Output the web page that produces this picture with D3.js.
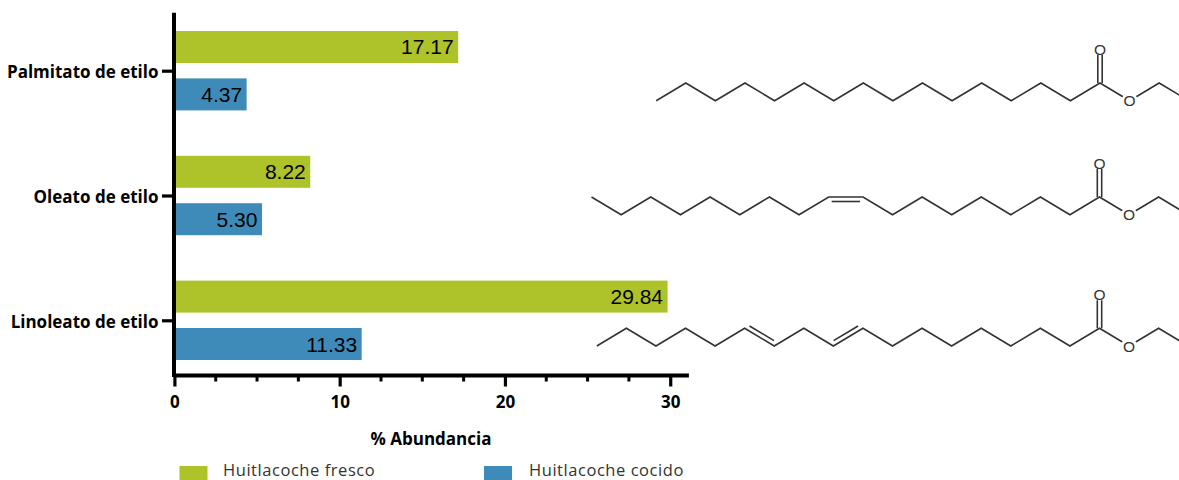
<!DOCTYPE html>
<html>
<head>
<meta charset="utf-8">
<script src="https://cdn.jsdelivr.net/npm/d3@7"></script>
<style>
  html, body { margin: 0; padding: 0; background: #fff; overflow: hidden; }
  svg { display: block; }
</style>
</head>
<body>
<svg id="chart" width="1179" height="480"></svg>
<script>
const categories = ['Palmitato de etilo', 'Oleato de etilo', 'Linoleato de etilo'];
const seriesNames = ['Huitlacoche fresco', 'Huitlacoche cocido'];
const fresco = [17.17, 8.22, 29.84];
const cocido = [4.37, 5.30, 11.33];
const xTicks = [0, 10, 20, 30];
const xMinorTicks = [2.5, 5, 7.5, 12.5, 15, 17.5, 22.5, 25, 27.5];
const colors = ['#aec22a', '#3e8bba'];

const svg = d3.select('#chart');

// scales
const xScale = d3.scaleLinear().domain([0, 31.1]).range([174.4, 688.4]);
const yScale = d3.scalePoint().domain(categories).range([70.7, 320.3]);
const subScale = d3.scaleBand().domain(seriesNames).range([-39.7, 39.7]).paddingInner(0.325);

// bars
seriesNames.forEach((name, s) => {
  const values = s === 0 ? fresco : cocido;
  const g = svg.append('g');

  g.selectAll('rect')
    .data(values)
    .join('rect')
    .attr('x', xScale(0))
    .attr('y', (d, i) => yScale(categories[i]) + subScale(name))
    .attr('width', d => xScale(d) - xScale(0))
    .attr('height', subScale.bandwidth())
    .attr('fill', colors[s]);

  g.selectAll('text')
    .data(values)
    .join('text')
    .attr('x', d => xScale(d) - 4.5)
    .attr('y', (d, i) => yScale(categories[i]) + subScale(name) + subScale.bandwidth() / 2 + 7.5)
    .attr('text-anchor', 'end')
    .style('font-family', 'Liberation Sans')
    .style('font-size', '21px')
    .attr('fill', '#000')
    .text(d => d.toFixed(2));
});

// x axis, major and minor ticks
const xAxis = d3.axisBottom(xScale).tickValues(xTicks).tickSize(11.5).tickSizeOuter(0).tickPadding(9);
const gx = svg.append('g').attr('transform', 'translate(0,375)').call(xAxis);
gx.select('.domain').attr('stroke', '#000').attr('stroke-width', 4);
gx.selectAll('.tick line').attr('stroke', '#000').attr('stroke-width', 3.2);
gx.selectAll('.tick text')
  .style('font-family', 'Open Sans')
  .style('font-weight', 700)
  .style('font-size', '17px')
  .attr('fill', '#000');

gx.selectAll('.minor')
  .data(xMinorTicks)
  .join('line')
  .attr('class', 'minor')
  .attr('x1', d => xScale(d))
  .attr('x2', d => xScale(d))
  .attr('y1', 0)
  .attr('y2', 6.5)
  .attr('stroke', '#000')
  .attr('stroke-width', 3);

// y axis
const yAxis = d3.axisLeft(yScale).tickSize(12).tickSizeOuter(0).tickPadding(3.5);
const gy = svg.append('g').attr('transform', 'translate(174,0)').call(yAxis);
gy.select('.domain').attr('d', 'M0,12.7V377').attr('stroke', '#000').attr('stroke-width', 4);
gy.selectAll('.tick line').attr('stroke', '#000').attr('stroke-width', 3.2);
gy.selectAll('.tick text')
  .attr('y', 1.5)
  .style('font-family', 'Open Sans')
  .style('font-weight', 700)
  .style('font-size', '17px')
  .attr('fill', '#000');

svg.append('text')
  .attr('x', 431)
  .attr('y', 445)
  .attr('text-anchor', 'middle')
  .style('font-family', 'Open Sans')
  .style('font-weight', 700)
  .style('font-size', '17px')
  .attr('fill', '#000')
  .text('% Abundancia');

// legend, swatches run off the bottom of the picture as in the original
const legendX = d3.scaleOrdinal().domain(seriesNames).range([179.5, 484]);
const legend = svg.selectAll('.legend')
  .data(seriesNames)
  .join('g')
  .attr('class', 'legend')
  .attr('transform', d => `translate(${legendX(d)},466)`);

legend.append('rect')
  .attr('width', 28)
  .attr('height', 14)
  .attr('fill', (d, i) => colors[i]);

legend.append('text')
  .attr('x', (d, i) => i === 0 ? 43.5 : 45)
  .attr('y', 9.5)
  .style('font-family', 'Open Sans')
  .style('font-size', '16.5px')
  .style('letter-spacing', '0.55px')
  .attr('fill', '#333')
  .text(d => d);

// molecules: zigzag chain, C=O on atom carbonyl, ester O on the next atom
const palmitatoDobles = [];
const oleatoDobles = [{ bond: 8, side: -1 }];
const linoleatoDobles = [{ bond: 5, side: 1 }, { bond: 8, side: 1 }];

function drawMolecule(o) {
  const atoms = d3.range(o.carbonyl + 4);
  const px = d3.scaleLinear().domain(o.xDomain).range(o.xRange);
  const py = i => {
    let up = i % 2 === 1;
    if (o.flat !== undefined && i <= o.flat) up = !up;
    return up ? o.yHigh : o.yHigh + 17.7;
  };
  const line = d3.line().x(i => px(i)).y(i => py(i));
  const g = svg.append('g')
    .attr('fill', 'none')
    .attr('stroke', '#333')
    .attr('stroke-width', 1.6);

  g.append('path').attr('d', line(atoms));

  // second stroke of the chain double bonds
  o.doubles.forEach(b => {
    const x1 = px(b.bond), y1 = py(b.bond), x2 = px(b.bond + 1), y2 = py(b.bond + 1);
    const len = Math.hypot(x2 - x1, y2 - y1);
    const ux = (x2 - x1) / len, uy = (y2 - y1) / len;
    const nx = uy * b.side * 4.5, ny = -ux * b.side * 4.5;
    g.append('path').attr('d', d3.line()([
      [x1 + nx + ux * 3, y1 + ny + uy * 3],
      [x2 + nx - ux * 3, y2 + ny - uy * 3]
    ]));
  });

  // C=O
  const cx = px(o.carbonyl), cy = py(o.carbonyl);
  [-2.2, 2.2].forEach(dx => {
    g.append('path').attr('d', d3.line()([[cx + dx, cy], [cx + dx, cy - 28]]));
  });

  // ester O sits in a gap of the chain
  const ex = px(o.carbonyl + 1), ey = py(o.carbonyl + 1);
  svg.append('circle').attr('cx', ex).attr('cy', ey).attr('r', 8).attr('fill', '#fff');

  const oxy = svg.append('g')
    .style('font-family', 'Liberation Sans')
    .style('font-size', '15.5px')
    .attr('fill', '#333')
    .attr('text-anchor', 'middle');
  oxy.append('text').attr('x', cx).attr('y', cy - 28.5).text('O');
  oxy.append('text').attr('x', ex).attr('y', ey + 5.5).text('O');
}

drawMolecule({
  carbonyl: 15, doubles: palmitatoDobles, yHigh: 83,
  xDomain: [0, 15], xRange: [656.2, 1100]
});
drawMolecule({
  carbonyl: 17, doubles: oleatoDobles, flat: 8, yHigh: 197,
  xDomain: [0, 8, 9, 17], xRange: [591.5, 828.7, 863, 1099.5]
});
drawMolecule({
  carbonyl: 17, doubles: linoleatoDobles, yHigh: 328.3,
  xDomain: [0, 17], xRange: [596.8, 1099.5]
});
</script>
</body>
</html>
